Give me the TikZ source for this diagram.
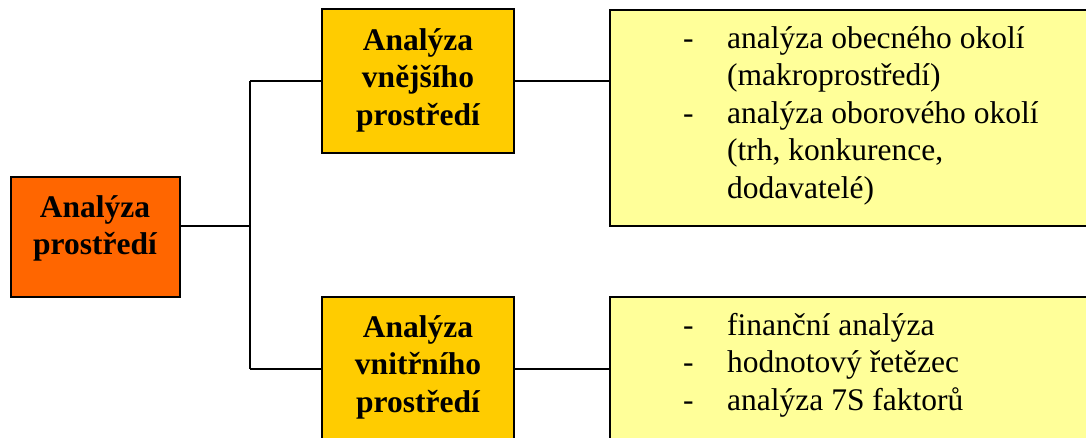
\documentclass[tikz,border=0pt]{standalone}
\usepackage{fontspec}
\setmainfont{Liberation Serif}
\definecolor{rootc}{HTML}{FF6600}
\definecolor{midc}{HTML}{FFCC00}
\definecolor{listc}{HTML}{FFFF99}
\begin{document}
\begin{tikzpicture}[x=1pt,y=1pt,
  box/.style={draw=black, line width=2.5pt, inner sep=0pt, rectangle},
  conn/.style={draw=black, line width=2.2pt},
  head/.style={font=\fontsize{31.5}{37.5}\selectfont\bfseries, inner sep=0pt, anchor=north},
  items/.style={font=\fontsize{31.5}{37.5}\selectfont, inner sep=0pt, anchor=north west}]
\useasboundingbox (0,0) rectangle (1086,438);
\clip (0,0) rectangle (1086,438);
% boxes
\node[box, fill=rootc, minimum width=169pt, minimum height=120pt] (root) at (95.5,201) {};
\node[box, fill=midc, minimum width=192pt, minimum height=144pt] (ext) at (418,357) {};
\node[box, fill=midc, minimum width=192pt, minimum height=170pt] (int) at (418,56) {};
\node[box, fill=listc, minimum width=500pt, minimum height=216pt] (extl) at (860,320) {};
\node[box, fill=listc, minimum width=500pt, minimum height=170pt] (intl) at (860,56) {};
% texts
\node[head] (rootT) at (95,438-217+26.25) {\begin{tabular}{@{}c@{}}Analýza\\prostředí\end{tabular}};
\node[head] (extT) at (418,438-50+26.25) {\begin{tabular}{@{}c@{}}Analýza\\vnějšího\\prostředí\end{tabular}};
\node[head] (intT) at (418,438-337+26.25) {\begin{tabular}{@{}c@{}}Analýza\\vnitřního\\prostředí\end{tabular}};
\node[items] (extL) at (683,438-48+26.25) {\begin{tabular}{@{}p{44pt}@{}l@{}}
-&analýza obecného okolí\\
&(makroprostředí)\\
-&analýza oborového okolí\\
&(trh, konkurence,\\
&dodavatelé)\end{tabular}};
\node[items] (intL) at (683,438-335+26.25) {\begin{tabular}{@{}p{44pt}@{}l@{}}
-&finanční analýza\\
-&hodnotový řetězec\\
-&analýza 7S faktorů\end{tabular}};
% connectors
\coordinate (j) at (250,212);
\coordinate (vt) at (250,357);
\coordinate (vb) at (250,69);
\draw[conn] (j -| root.east) -- (j);
\draw[conn] (vt) -- (vb);
\draw[conn] (vt) -- (vt -| ext.west);
\draw[conn] (vb) -- (vb -| int.west);
\draw[conn] (ext.east) -- (ext.east -| extl.west);
\draw[conn] (vb -| int.east) -- (vb -| intl.west);
\end{tikzpicture}
\end{document}
